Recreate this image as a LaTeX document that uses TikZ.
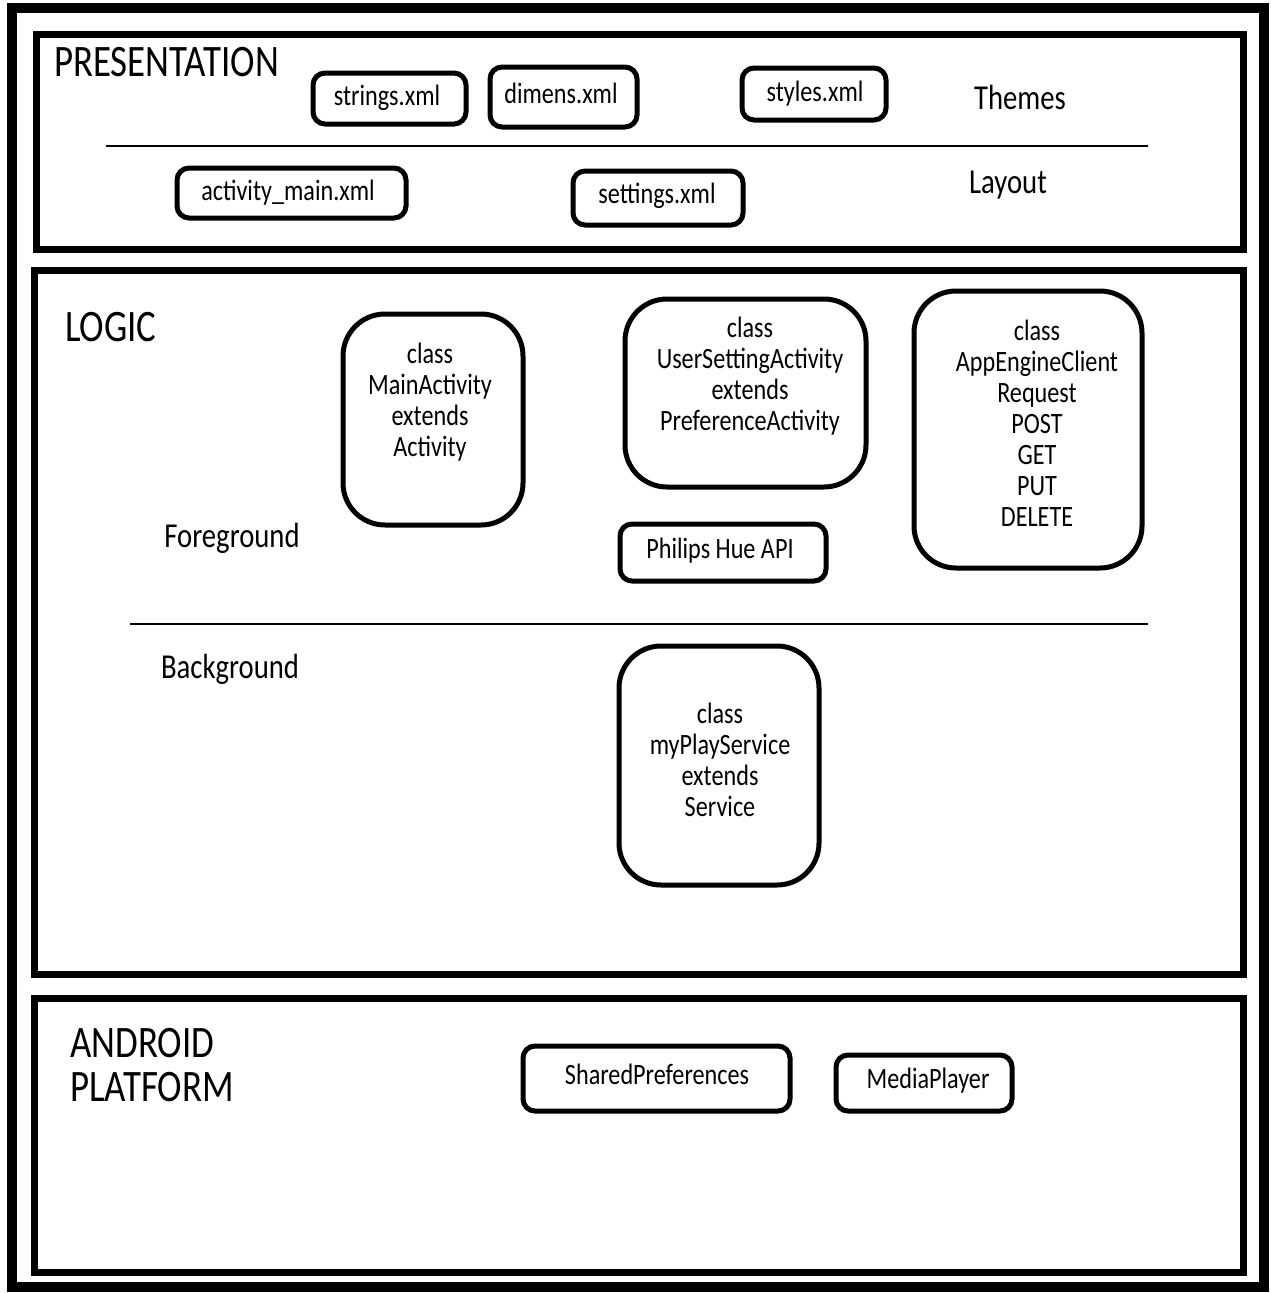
\documentclass[tikz,border=0pt]{standalone}
\usepackage{fontspec}
\setmainfont{Carlito}[FakeStretch=0.82]
\tikzset{
	layerbox/.style={line width=7pt},
	smallbox/.style={line width=5pt, rounded corners=12pt},
	classbox/.style={line width=5pt, rounded corners=42pt},
	boxtext/.style={inner sep=0pt, align=center, font=\fontsize{29.5}{31}\selectfont},
	sidetext/.style={inner sep=0pt, font=\fontsize{35}{38}\selectfont},
	layertext/.style={inner sep=0pt, anchor=west, align=left, font=\fontsize{45}{44}\selectfont}
}
\begin{document}
\begin{tikzpicture}[x=1pt, y=-1pt]
	\useasboundingbox (0,0) rectangle (1270,1293);
	\draw[line width=10pt] (12,8) rectangle (1264,1287);
	%Schichten
	\draw[layerbox] (36,34)  rectangle (1243,249);
	\draw[layerbox] (34,270) rectangle (1243,974);
	\draw[layerbox] (34,998) rectangle (1243,1272);
	\draw[line width=1.5pt] (106,146) -- (1148,146);
	\draw[line width=1.5pt] (130,624) -- (1148,624);
	%Presentation
	\node[layertext] (presentation) at (54,62) {PRESENTATION};
	\draw[smallbox] (387,98)  node[boxtext] (strings)  {strings.xml}       ++(-74,-25)  rectangle ++(153,51);
	\draw[smallbox] (561,93)  node[boxtext] (dimens)   {dimens.xml}        ++(-71,-26)  rectangle ++(147,60);
	\draw[smallbox] (815,94)  node[boxtext] (styles)   {styles.xml}        ++(-73,-26)  rectangle ++(144,52);
	\draw[smallbox] (288,193) node[boxtext] (actmain)  {activity\_main.xml} ++(-111,-25) rectangle ++(229,50);
	\draw[smallbox] (657,196) node[boxtext] (settings) {settings.xml}      ++(-84,-25)  rectangle ++(170,54);
	\node[sidetext] (themes) at (1020,97)  {Themes};
	\node[sidetext] (layout) at (1008,185) {Layout};
	%Logic
	\node[layertext] (logic) at (65,327) {LOGIC};
	\node[sidetext] (foreground) at (232,538) {Foreground};
	\node[sidetext] (background) at (230,669) {Background};
	\draw[classbox] (430,402)  node[boxtext] (mainact) {class\\MainActivity\\extends\\Activity} ++(-87,-88) rectangle ++(180,211);
	\draw[classbox] (750,376)  node[boxtext] (userset) {class\\UserSettingActivity\\extends\\PreferenceActivity} ++(-125,-77) rectangle ++(241,188);
	\draw[classbox] (1037,423) node[boxtext] (appengine) {class\\AppEngineClient\\Request\\POST\\GET\\PUT\\DELETE} ++(-123,-132) rectangle ++(228,277);
	\draw[smallbox] (720,551)  node[boxtext] (huapi) {Philips Hue API} ++(-100,-27) rectangle ++(206,57);
	\draw[classbox] (720,760)  node[boxtext] (playserv) {class\\myPlayService\\extends\\Service} ++(-101,-114) rectangle ++(200,239);
	%Android
	\node[layertext] (android) at (70,1065) {ANDROID\\PLATFORM};
	\draw[smallbox] (657,1074) node[boxtext] (sharedpref)  {SharedPreferences} ++(-134,-28) rectangle ++(267,65);
	\draw[smallbox] (928,1081) node[boxtext] (mediaplayer) {MediaPlayer}       ++(-92,-26)  rectangle ++(176,56);
\end{tikzpicture}
\end{document}
